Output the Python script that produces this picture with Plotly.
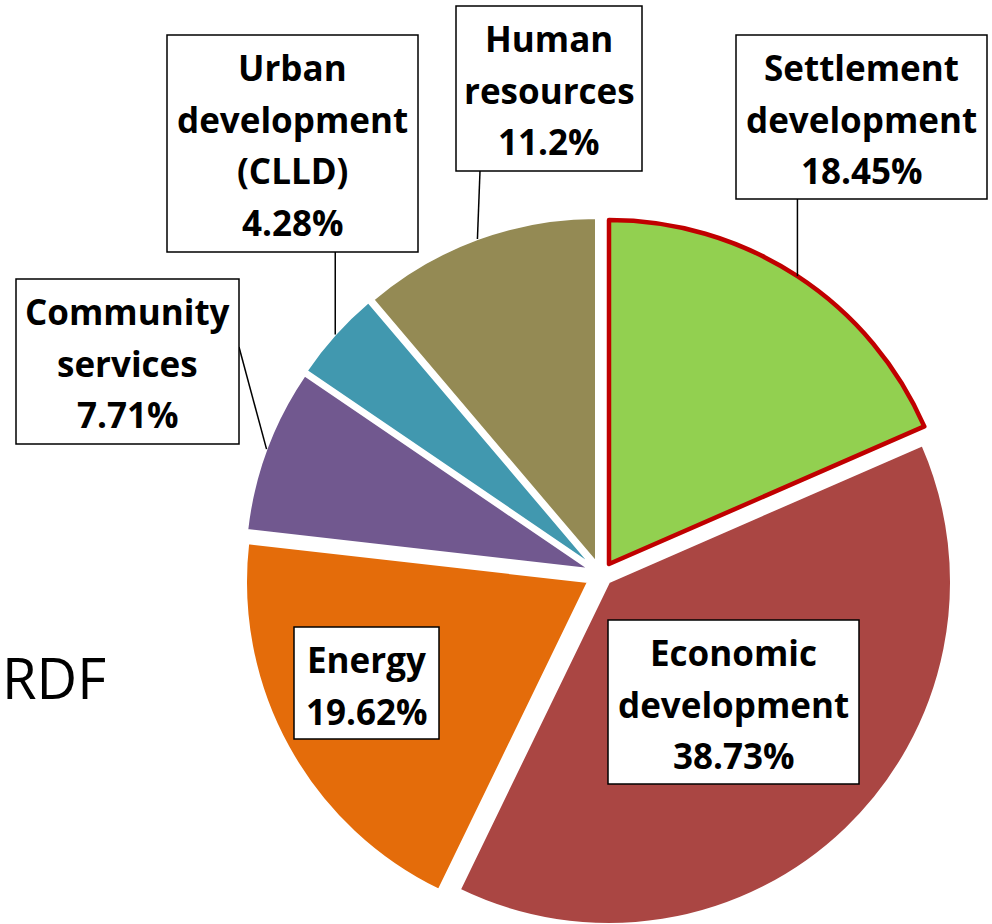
import math
import plotly.graph_objects as go

# ---------------- data ----------------
labels = ["Settlement development", "Economic development", "Energy",
          "Community services", "Urban development (CLLD)", "Human resources"]
values = [18.45, 38.73, 19.62, 7.71, 4.28, 11.2]
label_lines = [["Settlement", "development"],
               ["Economic", "development"],
               ["Energy"],
               ["Community", "services"],
               ["Urban", "development", "(CLLD)"],
               ["Human", "resources"]]
side_title = "RDF"

# ---------------- styles / layout (pixels, top-left origin) ----------------
W, H = 992, 924
colors = ["#92D050", "#AA4643", "#E46C0A", "#71588F", "#4198AF", "#948A54"]
border_colors = ["#C00000", "white", "white", "white", "white", "white"]
border_widths = [4.5, 2, 2, 2, 2, 2]
slice_center = [(609, 564), (609, 582), (588, 582), (589, 569), (591, 564.5), (596, 562)]
slice_radius = [344, 342, 342, 344, 344, 344]
boxes = [(736, 35, 987, 199), (608, 620, 859, 784), (294, 627, 439, 739),
         (16, 279, 239, 444), (167, 35, 418, 252), (456, 6, 642, 171)]
# leader start: None = no leader; "down" = vertical from box bottom; tuple = fixed start
leader_start = ["down", None, None, (239, 347), "down", (480, 171)]
first_line_off = 32.5
line_step = 51.7
font_size = 35


def px(x):
    return x / W


def py(y):
    return 1 - y / H


fig = go.Figure()

total = sum(values)
starts = []
acc = 0.0
for v in values:
    starts.append(acc)
    acc += v

order = [5, 4, 3, 2, 1, 0]
for i in order:
    cx, cy = slice_center[i]
    r = slice_radius[i]
    dx0 = round(max(0.0, (cx - r) / W), 6)
    dx1 = round(min(1.0, (cx + r) / W), 6)
    dy0 = round(max(0.0, 1 - (cy + r) / H), 6)
    dy1 = round(min(1.0, 1 - (cy - r) / H), 6)
    cols = ["rgba(0,0,0,0)"] * len(values)
    cols[i] = colors[i]
    lcols = ["rgba(0,0,0,0)"] * len(values)
    lcols[i] = border_colors[i]
    lws = [0] * len(values)
    lws[i] = border_widths[i]
    fig.add_trace(go.Pie(
        labels=labels, values=values, sort=False, direction="clockwise",
        rotation=0, textinfo="none", hoverinfo="skip", showlegend=False,
        marker=dict(colors=cols, line=dict(color=lcols, width=lws)),
        domain=dict(x=[dx0, dx1], y=[dy0, dy1]),
    ))

shapes = []
annotations = []
for i, v in enumerate(values):
    x0, y0, x1, y1 = boxes[i]
    # leader line to the slice edge at its bisector
    mid = (starts[i] + v / 2) / total * 2 * math.pi
    cx, cy = slice_center[i]
    r = slice_radius[i]
    ex = cx + r * math.sin(mid)
    ey = cy - r * math.cos(mid)
    ls = leader_start[i]
    if ls is not None:
        if ls == "down":
            sx, sy = ex, y1
        else:
            sx, sy = ls
        shapes.append(dict(type="line", xref="paper", yref="paper",
                           x0=px(sx), y0=py(sy), x1=px(ex), y1=py(ey),
                           line=dict(color="black", width=1.5), layer="above"))
for i, v in enumerate(values):
    x0, y0, x1, y1 = boxes[i]
    shapes.append(dict(type="rect", xref="paper", yref="paper",
                       x0=px(x0), y0=py(y0), x1=px(x1), y1=py(y1),
                       fillcolor="white", line=dict(color="black", width=1.5),
                       layer="above"))
    lines = label_lines[i] + [f"{v}%"]
    xc = (x0 + x1) / 2
    for k, t in enumerate(lines):
        yc = y0 + first_line_off + k * line_step
        annotations.append(dict(xref="paper", yref="paper", x=px(xc), y=py(yc),
                                xanchor="center", yanchor="middle",
                                text=f"<b>{t}</b>", showarrow=False,
                                font=dict(family="Open Sans", size=font_size, color="black")))

annotations.append(dict(xref="paper", yref="paper", x=px(54), y=py(677),
                        xanchor="center", yanchor="middle", text=side_title,
                        showarrow=False,
                        font=dict(family="Open Sans", size=56, color="black")))

fig.update_layout(width=W, height=H, margin=dict(l=0, r=0, t=0, b=0),
                  paper_bgcolor="white", plot_bgcolor="white",
                  showlegend=False, shapes=shapes, annotations=annotations)

fig.write_html("out.html", config={"displayModeBar": False},
               post_script="document.body.style.margin='0px';"
                           "document.body.style.overflow='hidden';")
